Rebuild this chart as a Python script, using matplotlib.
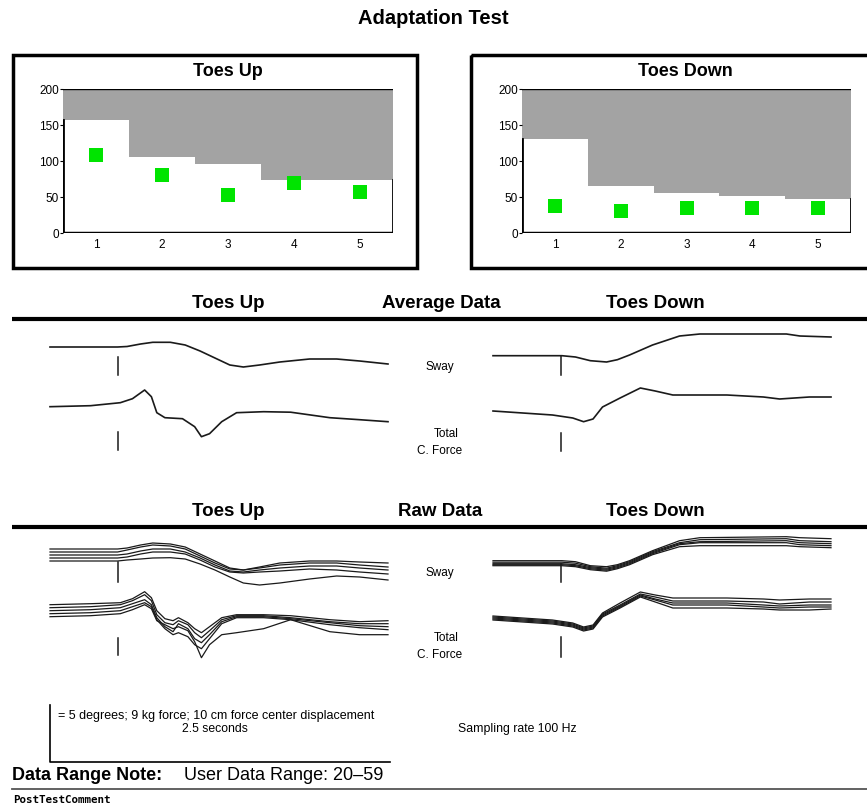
import matplotlib
matplotlib.use("Agg")
import matplotlib.pyplot as plt
from matplotlib import font_manager
from matplotlib.patches import Rectangle

W, H = 867, 810

# ---- data ----
trials = [1, 2, 3, 4, 5]
up_limit = [157, 106, 96, 73, 73]
up_score = [108, 80, 53, 70, 57]
down_limit = [130, 65, 55, 52, 47]
down_score = [38, 30, 35, 35, 35]

# average traces (time in s, signal in display units, up = positive)
t_up_sway = [0, 0.5, 0.57, 0.67, 0.76, 0.89, 1.0, 1.11, 1.22, 1.33, 1.43, 1.55, 1.70, 1.92, 2.12, 2.29, 2.5]
up_sway_avg = [0, 0, 0.5, 3, 4.7, 4.7, 2, -4, -11, -18, -20, -18, -15, -12, -12, -14, -17]

t_up_force = [0, 0.30, 0.52, 0.61, 0.70, 0.75, 0.79, 0.85, 0.98, 1.07, 1.12, 1.18, 1.27, 1.38, 1.58, 1.78, 2.07, 2.29, 2.5]
up_force_avg = [0, 1, 4, 8, 16.7, 10, -6, -11, -12, -20, -30, -27, -15, -6, -5, -5.5, -11, -13, -15]

t_down_sway = [0, 0.51, 0.61, 0.72, 0.84, 0.92, 1.01, 1.18, 1.38, 1.53, 2.17, 2.27, 2.5]
down_sway_avg = [0, 0, -1.3, -5, -6.3, -4, 0.7, 10.7, 19.7, 21.7, 21.7, 19.7, 18.7]

t_down_force = [0, 0.44, 0.59, 0.67, 0.74, 0.81, 0.94, 1.09, 1.20, 1.33, 1.73, 2.0, 2.12, 2.34, 2.5]
down_force_avg = [0, -4, -7, -10.7, -8, 4, 13, 23, 20, 16, 16, 14, 12, 14, 14]

# raw trials
up_sway_raw = [
    [6, 6, 7, 10, 12, 11, 8, 1, -6, -13, -15, -12, -8, -6, -6, -7, -8],
    [3, 3, 5, 8, 10, 9, 6, -1, -8, -14, -15, -13, -10, -8, -8, -10, -12],
    [0, 0, 1, 4, 6, 6, 3, -3, -10, -16, -17, -15, -13, -11, -11, -13, -15],
    [-3, -3, -2, 1, 3, 3, 1, -5, -12, -17, -18, -17, -16, -14, -15, -17, -19],
    [-6, -6, -5, -4, -3, -2.7, -4, -9, -15, -22, -28, -30, -28, -24, -21, -22, -25],
]
t_up_force_raw = [0, 0.30, 0.52, 0.61, 0.70, 0.75, 0.79, 0.85, 0.91, 0.95, 1.02, 1.07, 1.12, 1.18, 1.27,
                  1.38, 1.58, 1.78, 2.07, 2.29, 2.5]
up_force_raw = [
    [10, 11, 12, 16, 23, 17, 4, -4, -6, -3, -8, -14, -18, -12, -3, 0, 0, -1, -5, -7, -6],
    [7, 8, 10, 14, 20, 14, 0, -8, -10, -6, -10, -18, -23, -16, -5, -1, -1, -3, -7, -9, -9],
    [4, 5, 7, 11, 15, 10, -3, -12, -17, -9, -14, -24, -28, -20, -7, -2, -2, -4, -8, -11, -12],
    [1, 2, 4, 8, 12, 8, -5, -14, -20, -18, -22, -30, -34, -24, -9, -3, -3, -5, -10, -13, -15],
    [-2, -1, 1, 5, 10, 6, -6, -10, -14, -12, -16, -27, -43, -30, -20, -18, -14, -5, -17, -20, -20],
]
down_sway_raw = [
    [3, 3, 2, -2, -3, -1, 3, 13, 23, 26, 27, 26, 25],
    [1.5, 1.5, 0.5, -3, -4.5, -2, 2, 12, 21, 24, 25, 23, 22],
    [0, 0, -1, -4, -5.5, -3, 1, 11, 20, 22, 23, 21, 20],
    [-1, -1, -2, -5, -6.5, -4, 0, 10, 19, 21, 21, 19, 18],
    [-2, -2, -3, -6, -7.5, -5, -1, 9, 17, 18, 18, 17, 16],
]
down_force_raw = [
    [3, -1, -4, -8, -6, 6, 16, 27, 24, 21, 21, 20, 19, 20, 20],
    [2, -2, -5, -9, -7, 5, 14, 25, 22, 18, 18, 17, 15, 17, 17],
    [1, -3, -6, -10, -8, 4, 13, 24, 20, 16, 16, 14, 13, 14, 14],
    [0, -4, -7, -11, -9, 3, 12, 23, 19, 14, 14, 12, 11, 12, 12],
    [-1, -5, -8, -12, -10, 2, 11, 22, 17, 11, 11, 10, 9, 9, 10],
]

onset = 0.5


def pick_font():
    for name in ["Liberation Sans Narrow", "Liberation Sans"]:
        try:
            font_manager.findfont(name, fallback_to_default=False)
            return name
        except ValueError:
            pass
    return "DejaVu Sans"


FONT = pick_font()
plt.rcParams["font.family"] = [FONT, "DejaVu Sans"]


def px_rect(x0, y0, x1, y1):
    return [x0 / W, 1 - y1 / H, (x1 - x0) / W, (y1 - y0) / H]


fig = plt.figure(figsize=(W / 100, H / 100), dpi=100)
bg = fig.add_axes([0, 0, 1, 1])
bg.set_xlim(0, W)
bg.set_ylim(H, 0)
bg.axis("off")

bg.text(433, 18, "Adaptation Test", ha="center", va="center", fontsize=14.5, fontweight="bold")

# boxes round the bar charts
bg.add_patch(Rectangle((13, 55), 404, 213, fill=False, lw=2.5, ec="black"))
bg.add_patch(Rectangle((471, 55), 420, 213, fill=False, lw=2.5, ec="black", clip_on=True))


def bar_panel(rect, title, limit, score, title_x):
    ax = fig.add_axes(px_rect(*rect))
    ax.bar(trials, [200 - v for v in limit], bottom=limit, width=1.0, color="#a3a3a3", lw=0)
    ax.scatter(trials, score, marker="s", s=95, color="#00e400", zorder=3, lw=0)
    ax.plot([0.5, 5.5], [200, 200], color="black", lw=1)
    ax.plot([0.5, 0.5], [0, limit[0]], color="black", lw=2)
    ax.plot([5.5, 5.5], [0, limit[-1]], color="black", lw=2)
    ax.plot([0.5, 5.5], [0, 0], color="black", lw=2.5)
    ax.set_xlim(0.5, 5.5)
    ax.set_ylim(0, 200)
    for s in ax.spines.values():
        s.set_visible(False)
    ax.set_yticks([0, 50, 100, 150, 200])
    ax.set_xticks(trials)
    ax.tick_params(axis="y", length=2, pad=1, labelsize=8.5)
    ax.tick_params(axis="x", length=0, pad=4, labelsize=8.5)
    ax.patch.set_alpha(0)
    bg.text(title_x, 71, title, ha="center", va="center", fontsize=13, fontweight="bold")


bar_panel((63, 89, 393, 233), "Toes Up", up_limit, up_score, 228)
bar_panel((522, 89, 851, 233), "Toes Down", down_limit, down_score, 685)

# section headers
for y_head, mid, mid_x in [(303, "Average Data", 441), (511, "Raw Data", 440)]:
    bg.text(228, y_head, "Toes Up", ha="center", va="center", fontsize=13.5, fontweight="bold")
    bg.text(mid_x, y_head, mid, ha="center", va="center", fontsize=13.5, fontweight="bold")
    bg.text(655, y_head, "Toes Down", ha="center", va="center", fontsize=13.5, fontweight="bold")
    bg.plot([12, 867], [y_head + 16, y_head + 16], color="black", lw=3, solid_capstyle="butt")

for y_sway, y_total in [(367, 434), (573, 638)]:
    bg.text(440, y_sway, "Sway", ha="center", va="center", fontsize=8.5)
    bg.text(446, y_total, "Total", ha="center", va="center", fontsize=8.5)
    bg.text(440, y_total + 17, "C. Force", ha="center", va="center", fontsize=8.5)


def trace_axes(x0, y_base, half=50):
    ax = fig.add_axes(px_rect(x0, y_base - half, x0 + 338, y_base + half))
    ax.set_xlim(0, 2.5)
    ax.set_ylim(-half, half)
    ax.axis("off")
    ax.patch.set_alpha(0)
    return ax


def draw(ax, t, curves, mark, lw):
    for c in curves:
        ax.plot(t, c, color="#1a1a1a", lw=lw, clip_on=False)
    ax.plot([onset, onset], mark, color="#1a1a1a", lw=1.1, clip_on=False)


# average data
draw(trace_axes(50, 347), t_up_sway, [up_sway_avg], [-10, -28], 1.2)
draw(trace_axes(50, 406.7), t_up_force, [up_force_avg], [-25, -43], 1.2)
draw(trace_axes(493, 355.7), t_down_sway, [down_sway_avg], [0, -19], 1.2)
draw(trace_axes(493, 411), t_down_force, [down_force_avg], [-22, -40], 1.2)

# raw data
draw(trace_axes(50, 555), t_up_sway, up_sway_raw, [-7, -27], 0.9)
draw(trace_axes(50, 614.7), t_up_force_raw, up_force_raw, [-23, -40], 0.9)
draw(trace_axes(493, 563.7), t_down_sway, down_sway_raw, [0, -18], 0.9)
draw(trace_axes(493, 619), t_down_force, down_force_raw, [-18, -38], 0.9)

# scale note
bg.plot([50, 50, 390], [705, 762, 762], color="black", lw=1.2)
bg.text(58, 716, "= 5 degrees; 9 kg force; 10 cm force center displacement", ha="left", va="center",
        fontsize=9)
bg.text(215, 729, "2.5 seconds", ha="center", va="center", fontsize=8.8)
bg.text(517, 729, "Sampling rate 100 Hz", ha="center", va="center", fontsize=8.8)

bg.text(12, 775, "Data Range Note:", ha="left", va="center", fontsize=13, fontweight="bold")
bg.text(184, 775, "User Data Range: 20\u201359", ha="left", va="center", fontsize=13)
bg.plot([12, 867], [789, 789], color="#555555", lw=1.3)
bg.text(13, 800, "PostTestComment", ha="left", va="center", fontsize=7.8, fontweight="bold",
        family="DejaVu Sans Mono")

fig.savefig("out.png", dpi=100)
